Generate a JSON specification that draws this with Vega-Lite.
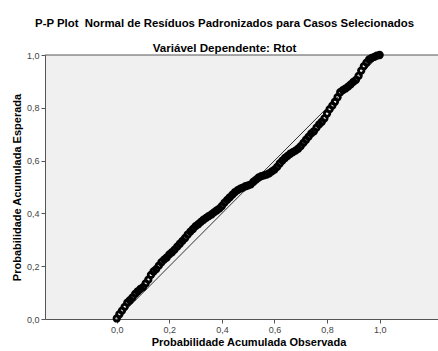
{
  "$schema": "https://vega.github.io/schema/vega-lite/v6.json",
  "width": 393,
  "height": 264,
  "autosize": {"type": "none"},
  "padding": {"left": 45, "top": 55, "right": 0, "bottom": 32},
  "background": "white",
  "config": {"font": "Liberation Sans", "view": {"fill": "#F0F0F0", "stroke": null}},
  "title": {
    "text": "P-P Plot\u00a0 Normal de Resíduos Padronizados para Casos Selecionados",
    "subtitle": "Variável Dependente: Rtot",
    "font": "Liberation Sans",
    "subtitleFont": "Liberation Sans",
    "fontSize": 11.4,
    "fontWeight": "bold",
    "color": "#000",
    "subtitleFontSize": 11.6,
    "subtitleFontWeight": "bold",
    "subtitleColor": "#000",
    "anchor": "middle",
    "dx": -17,
    "offset": -8,
    "subtitlePadding": 14
  },
  "datasets": {
    "pp": [
      {"obs": 0.00, "exp": 0.002}, {"obs": 0.01, "exp": 0.018}, {"obs": 0.02, "exp": 0.032}, {"obs": 0.03, "exp": 0.046},
      {"obs": 0.04, "exp": 0.062}, {"obs": 0.05, "exp": 0.071}, {"obs": 0.06, "exp": 0.082}, {"obs": 0.07, "exp": 0.095},
      {"obs": 0.08, "exp": 0.105}, {"obs": 0.09, "exp": 0.114}, {"obs": 0.10, "exp": 0.121}, {"obs": 0.11, "exp": 0.135},
      {"obs": 0.12, "exp": 0.149}, {"obs": 0.13, "exp": 0.167}, {"obs": 0.14, "exp": 0.180}, {"obs": 0.15, "exp": 0.189},
      {"obs": 0.16, "exp": 0.202}, {"obs": 0.17, "exp": 0.215}, {"obs": 0.18, "exp": 0.225}, {"obs": 0.19, "exp": 0.233},
      {"obs": 0.20, "exp": 0.245}, {"obs": 0.21, "exp": 0.253}, {"obs": 0.22, "exp": 0.263}, {"obs": 0.23, "exp": 0.274},
      {"obs": 0.24, "exp": 0.285}, {"obs": 0.25, "exp": 0.296}, {"obs": 0.26, "exp": 0.307}, {"obs": 0.27, "exp": 0.320},
      {"obs": 0.28, "exp": 0.331}, {"obs": 0.29, "exp": 0.341}, {"obs": 0.30, "exp": 0.352}, {"obs": 0.31, "exp": 0.359},
      {"obs": 0.32, "exp": 0.368}, {"obs": 0.33, "exp": 0.376}, {"obs": 0.34, "exp": 0.383}, {"obs": 0.35, "exp": 0.390},
      {"obs": 0.36, "exp": 0.396}, {"obs": 0.37, "exp": 0.404}, {"obs": 0.38, "exp": 0.411}, {"obs": 0.39, "exp": 0.418},
      {"obs": 0.40, "exp": 0.428}, {"obs": 0.41, "exp": 0.441}, {"obs": 0.42, "exp": 0.451}, {"obs": 0.43, "exp": 0.461},
      {"obs": 0.44, "exp": 0.471}, {"obs": 0.45, "exp": 0.481}, {"obs": 0.46, "exp": 0.488}, {"obs": 0.47, "exp": 0.494},
      {"obs": 0.48, "exp": 0.498}, {"obs": 0.49, "exp": 0.503}, {"obs": 0.50, "exp": 0.506}, {"obs": 0.51, "exp": 0.510},
      {"obs": 0.52, "exp": 0.520}, {"obs": 0.53, "exp": 0.528}, {"obs": 0.54, "exp": 0.536}, {"obs": 0.55, "exp": 0.541},
      {"obs": 0.56, "exp": 0.544}, {"obs": 0.57, "exp": 0.547}, {"obs": 0.58, "exp": 0.552}, {"obs": 0.59, "exp": 0.559},
      {"obs": 0.60, "exp": 0.566}, {"obs": 0.61, "exp": 0.576}, {"obs": 0.62, "exp": 0.589}, {"obs": 0.63, "exp": 0.600},
      {"obs": 0.64, "exp": 0.610}, {"obs": 0.65, "exp": 0.618}, {"obs": 0.66, "exp": 0.626}, {"obs": 0.67, "exp": 0.632},
      {"obs": 0.68, "exp": 0.638}, {"obs": 0.69, "exp": 0.645}, {"obs": 0.70, "exp": 0.655}, {"obs": 0.71, "exp": 0.667},
      {"obs": 0.72, "exp": 0.679}, {"obs": 0.73, "exp": 0.691}, {"obs": 0.74, "exp": 0.703}, {"obs": 0.75, "exp": 0.711},
      {"obs": 0.76, "exp": 0.725}, {"obs": 0.77, "exp": 0.737}, {"obs": 0.78, "exp": 0.747}, {"obs": 0.79, "exp": 0.760},
      {"obs": 0.80, "exp": 0.778}, {"obs": 0.81, "exp": 0.795}, {"obs": 0.82, "exp": 0.808}, {"obs": 0.83, "exp": 0.823},
      {"obs": 0.84, "exp": 0.840}, {"obs": 0.85, "exp": 0.859}, {"obs": 0.86, "exp": 0.867}, {"obs": 0.87, "exp": 0.873},
      {"obs": 0.88, "exp": 0.880}, {"obs": 0.89, "exp": 0.889}, {"obs": 0.90, "exp": 0.898}, {"obs": 0.91, "exp": 0.906},
      {"obs": 0.92, "exp": 0.921}, {"obs": 0.93, "exp": 0.941}, {"obs": 0.94, "exp": 0.958}, {"obs": 0.95, "exp": 0.971},
      {"obs": 0.96, "exp": 0.983}, {"obs": 0.97, "exp": 0.989}, {"obs": 0.98, "exp": 0.993}, {"obs": 0.99, "exp": 0.998},
      {"obs": 1.00, "exp": 1.000}
    ]
  },
  "layer": [
    {
      "data": {"values": [{}]},
      "mark": {"type": "rule", "color": "#555555", "strokeWidth": 1},
      "encoding": {"y": {"datum": 1, "type": "quantitative"}}
    },
    {
      "data": {"values": [{}]},
      "mark": {"type": "rule", "color": "#333333", "strokeWidth": 1},
      "encoding": {
        "x": {"datum": 0, "type": "quantitative"},
        "y": {"datum": 0, "type": "quantitative"},
        "x2": {"datum": 1},
        "y2": {"datum": 1}
      }
    },
    {
      "data": {"name": "pp"},
      "mark": {"type": "point", "shape": "circle", "filled": false, "stroke": "#000000", "strokeWidth": 2.8, "size": 30, "opacity": 1},
      "encoding": {
        "x": {
          "field": "obs",
          "type": "quantitative",
          "scale": {"domain": [-0.273, 1.222], "nice": false, "zero": false},
          "axis": {
            "title": "Probabilidade Acumulada Observada",
            "values": [0, 0.2, 0.4, 0.6, 0.8, 1.0],
            "labelExpr": "replace(format(datum.value, '.1f'), '.', ',')",
            "grid": false,
            "domainColor": "#555555",
            "tickColor": "#555555",
            "tickSize": 4,
            "labelFontSize": 9,
            "labelColor": "#444444",
            "labelPadding": 2,
            "labelFlush": false,
            "titleFontSize": 11,
            "titleFontWeight": "bold",
            "titleColor": "#000000",
            "titlePadding": 2,
            "titleX": 203.5
          }
        },
        "y": {
          "field": "exp",
          "type": "quantitative",
          "scale": {"domain": [0, 1], "nice": false, "zero": false},
          "axis": {
            "title": "Probabilidade Acumulada Esperada",
            "values": [0, 0.2, 0.4, 0.6, 0.8, 1.0],
            "labelExpr": "replace(format(datum.value, '.1f'), '.', ',')",
            "grid": false,
            "domainColor": "#555555",
            "tickColor": "#555555",
            "tickSize": 4,
            "labelFontSize": 9,
            "labelColor": "#444444",
            "labelPadding": 2,
            "labelFlush": false,
            "titleFontSize": 11,
            "titleFontWeight": "bold",
            "titleColor": "#000000",
            "titlePadding": 4
          }
        }
      }
    }
  ]
}
